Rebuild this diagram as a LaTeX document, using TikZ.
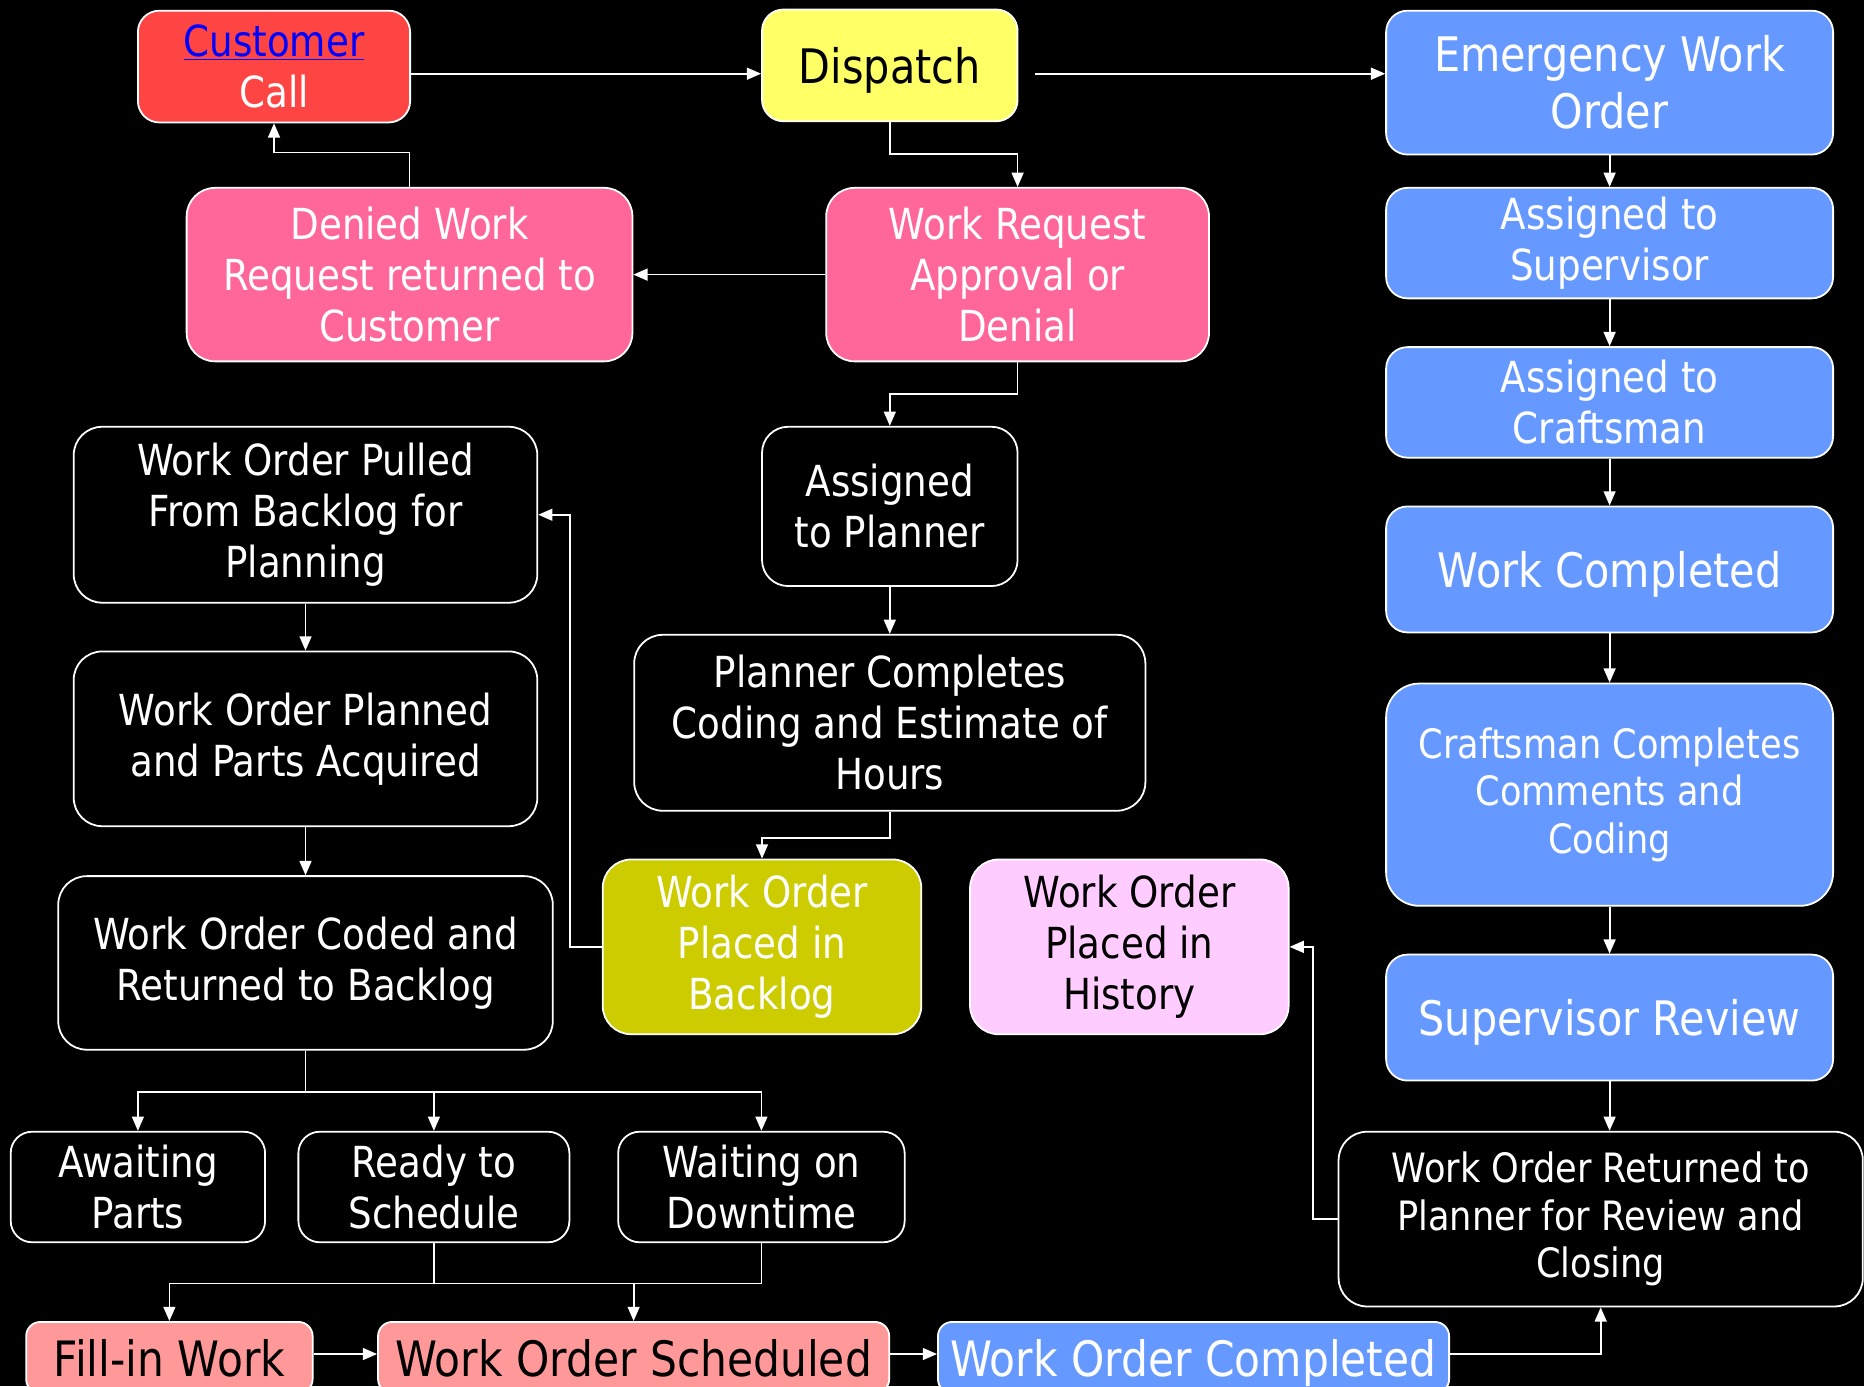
\documentclass[tikz,border=0pt]{standalone}
\usepackage{fontspec}
\setmainfont{DejaVu Sans}[FakeStretch=0.87]
\usetikzlibrary{arrows.meta,calc}
\definecolor{cred}{HTML}{FF4444}
\definecolor{cyel}{HTML}{FFFF66}
\definecolor{cblue}{HTML}{6699FF}
\definecolor{cpink}{HTML}{FF6699}
\definecolor{colive}{HTML}{CCCC00}
\definecolor{clpink}{HTML}{FFCCFF}
\definecolor{csalmon}{HTML}{FF9999}
\newcommand{\fsA}{\fontsize{36}{43}\selectfont}
\newcommand{\fsB}{\fontsize{40}{48}\selectfont}
\newcommand{\fsC}{\fontsize{34}{40}\selectfont}
\newcommand{\fsD}{\fontsize{41}{49}\selectfont}
\begin{document}
\begin{tikzpicture}[x=1pt,y=-1pt,
  box/.style={draw=white,line width=1.5pt,rounded corners=18pt,inner sep=0pt,align=center,text=white},
  oneline/.style={text depth=0pt},
  conn/.style={draw=white,line width=1.5pt,-{Triangle[length=12pt,width=10pt]}},
  line/.style={draw=white,line width=1.5pt}]
\useasboundingbox (0,0) rectangle (1568,1166);
\fill[black] (0,0) rectangle (1568,1166);
% top row
\node[box,fill=cred,minimum width=229pt,minimum height=94pt,font=\fsA] (cust) at (230.5,56) {\textcolor{blue}{\underline{Customer}}\\Call};
\node[box,oneline,fill=cyel,text=black,minimum width=215pt,minimum height=94pt,font=\fsB] (disp) at (748.5,55) {Dispatch};
% emergency column
\node[box,fill=cblue,minimum width=376pt,minimum height=121pt,font=\fsB] (emer) at (1354,69.5) {Emergency Work\\Order};
\node[box,fill=cblue,minimum width=376pt,minimum height=93pt,font=\fsA] (asup) at (1354,204.5) {Assigned to\\Supervisor};
\node[box,fill=cblue,minimum width=376pt,minimum height=93pt,font=\fsA] (acraft) at (1354,338.5) {Assigned to\\Craftsman};
\node[box,oneline,fill=cblue,minimum width=376pt,minimum height=106pt,font=\fsB] (wcomp) at (1354,479) {Work Completed};
\node[box,fill=cblue,minimum width=376pt,minimum height=187pt,font=\fsC,rounded corners=28pt] (ccomp) at (1354,668.5) {Craftsman Completes\\Comments and\\Coding};
\node[box,oneline,fill=cblue,minimum width=376pt,minimum height=106pt,font=\fsB] (srev) at (1354,856) {Supervisor Review};
\node[box,fill=black,minimum width=441pt,minimum height=147pt,font=\fsC,rounded corners=24pt] (ret) at (1346.5,1025.5) {Work Order Returned to\\Planner for Review and\\Closing};
% pink row
\node[box,fill=cpink,minimum width=375pt,minimum height=146pt,font=\fsA,rounded corners=24pt] (denied) at (344.5,231) {Denied Work\\Request returned to\\Customer};
\node[box,fill=cpink,minimum width=322pt,minimum height=146pt,font=\fsA,rounded corners=24pt] (wra) at (856,231) {Work Request\\Approval or\\Denial};
% middle
\node[box,fill=black,minimum width=215pt,minimum height=134pt,font=\fsA,rounded corners=22pt] (aplan) at (748.5,426) {Assigned\\to Planner};
\node[box,fill=black,minimum width=430pt,minimum height=148pt,font=\fsA,rounded corners=24pt] (pcomp) at (748.5,608) {Planner Completes\\Coding and Estimate of\\Hours};
\node[box,fill=colive,minimum width=268pt,minimum height=147pt,font=\fsA,rounded corners=24pt] (backlog) at (641,796.5) {Work Order\\Placed in\\Backlog};
\node[box,fill=clpink,text=black,minimum width=268pt,minimum height=147pt,font=\fsA,rounded corners=24pt] (hist) at (950,796.5) {Work Order\\Placed in\\History};
% left column
\node[box,fill=black,minimum width=390pt,minimum height=148pt,font=\fsA,rounded corners=24pt] (pulled) at (257,433) {Work Order Pulled\\From Backlog for\\Planning};
\node[box,fill=black,minimum width=390pt,minimum height=147pt,font=\fsA,rounded corners=24pt] (planned) at (257,621.5) {Work Order Planned\\and Parts Acquired};
\node[box,fill=black,minimum width=416pt,minimum height=146pt,font=\fsA,rounded corners=24pt] (coded) at (257,810) {Work Order Coded and\\Returned to Backlog};
% status row
\node[box,fill=black,minimum width=214pt,minimum height=93pt,font=\fsA] (await) at (116,998.5) {Awaiting\\Parts};
\node[box,fill=black,minimum width=228pt,minimum height=93pt,font=\fsA] (ready) at (365,998.5) {Ready to\\Schedule};
\node[box,fill=black,minimum width=241pt,minimum height=93pt,font=\fsA] (wait) at (640.5,998.5) {Waiting on\\Downtime};
% bottom row
\node[box,oneline,fill=csalmon,text=black,minimum width=241pt,minimum height=60pt,font=\fsD,rounded corners=12pt] (fill) at (142.5,1142) {Fill-in Work};
\node[box,oneline,fill=csalmon,text=black,minimum width=430pt,minimum height=60pt,font=\fsD,rounded corners=12pt] (sched) at (533,1142) {Work Order Scheduled};
\node[box,oneline,fill=cblue,minimum width=430pt,minimum height=60pt,font=\fsD,rounded corners=12pt] (woc) at (1004,1142) {Work Order Completed};
% connectors
\draw[conn] ([yshift=-6pt]cust.east) -- ([yshift=-7pt]disp.west);
\draw[conn] ([xshift=14pt,yshift=-7pt]disp.east) -- ([yshift=7.5pt]emer.west);
\draw[conn] (disp.south) -- ++(0,27) -| (wra.north);
\draw[conn] (wra.west) -- (denied.east);
\draw[conn] (denied.north) -- ++(0,-29) -| (cust.south);
\draw[conn] (wra.south) -- ++(0,27) -| (aplan.north);
\draw[conn] (aplan.south) -- (pcomp.north);
\draw[conn] (pcomp.south) -- ++(0,22) -| (backlog.north);
\draw[conn] (backlog.west) -- ++(-27,0) |- (pulled.east);
\draw[conn] (pulled.south) -- (planned.north);
\draw[conn] (planned.south) -- (coded.north);
\draw[line] (coded.south) -- ++(0,35) coordinate (j1);
\draw[conn] (j1) -| (await.north);
\draw[conn] (j1) -| (ready.north);
\draw[conn] (j1) -| (wait.north);
\draw[line] (ready.south) -- ++(0,34) coordinate (j2);
\draw[line] (wait.south) |- (j2);
\draw[conn] (j2) -| (fill.north);
\draw[conn] (j2) -| (sched.north);
\draw[conn] ([yshift=3pt]fill.east) -- ([yshift=3pt]sched.west);
\draw[conn] ([yshift=3pt]sched.east) -- ([yshift=3pt]woc.west);
\draw[conn] ([yshift=3pt]woc.east) -| (ret.south);
\draw[conn] (emer.south) -- (asup.north);
\draw[conn] (asup.south) -- (acraft.north);
\draw[conn] (acraft.south) -- (wcomp.north);
\draw[conn] (wcomp.south) -- (ccomp.north);
\draw[conn] (ccomp.south) -- (srev.north);
\draw[conn] (srev.south) -- (srev.south |- ret.north);
\draw[conn] (ret.west) -- ++(-21,0) |- (hist.east);
\end{tikzpicture}
\end{document}
